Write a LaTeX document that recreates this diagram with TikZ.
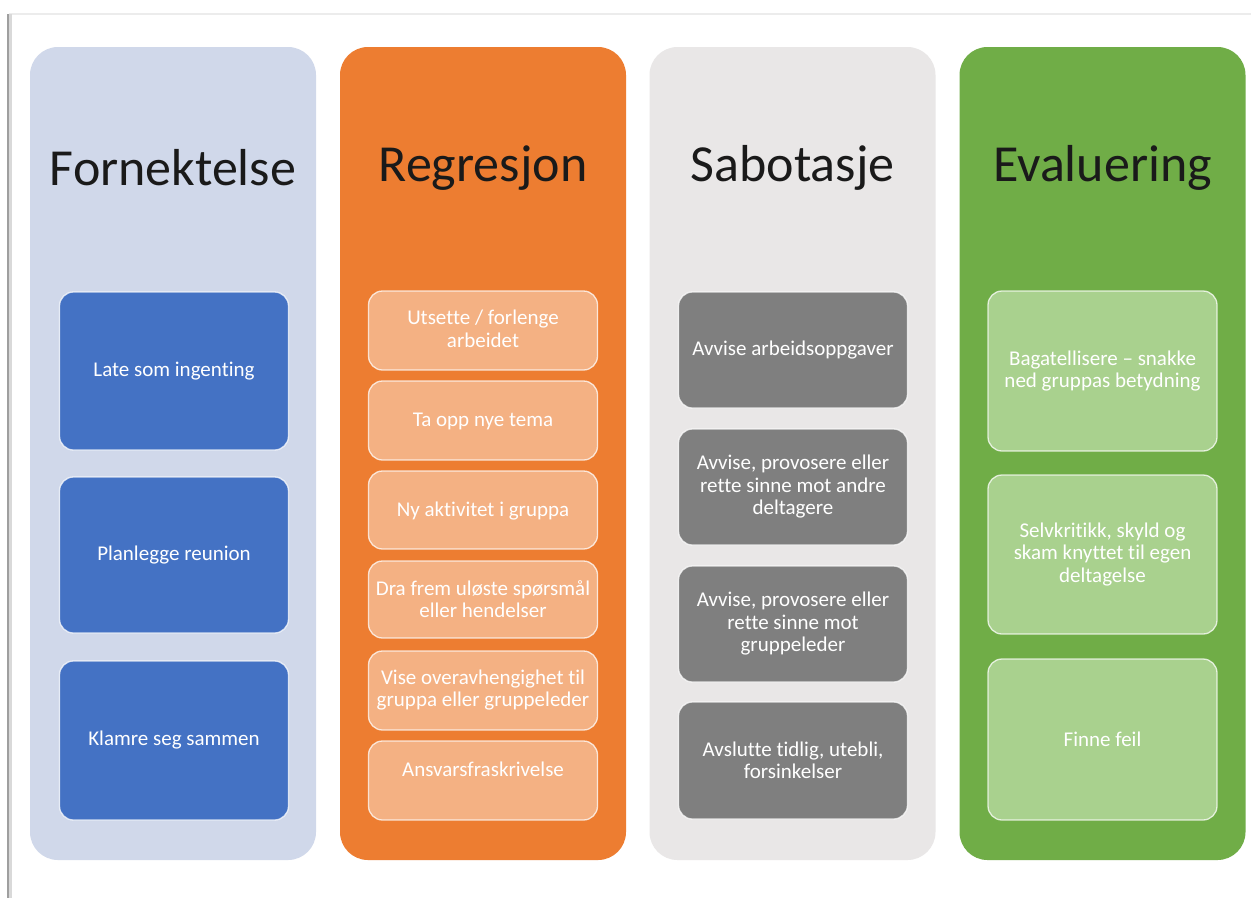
\documentclass[tikz,border=0pt]{standalone}
\usepackage{fontspec}
\setmainfont[Ligatures=NoCommon]{Carlito}
\definecolor{c1bg}{HTML}{D0D8EA}
\definecolor{c1bx}{HTML}{4472C4}
\definecolor{c2bg}{HTML}{ED7D31}
\definecolor{c2bx}{HTML}{F4B183}
\definecolor{c3bg}{HTML}{E9E7E7}
\definecolor{c3bx}{HTML}{7F7F7F}
\definecolor{c4bg}{HTML}{70AD47}
\definecolor{c4bx}{HTML}{A9D18E}
\definecolor{ttl}{HTML}{1A1A1A}
\tikzset{
  colbg/.style={draw=none, rounded corners=28pt, minimum width=286pt, minimum height=813pt, inner sep=0pt},
  ttlnode/.style={font=\fontsize{52}{58}\selectfont, text=ttl, inner sep=0pt},
  bx/.style={rounded corners=14pt, draw=white, draw opacity=0.75, line width=1.3pt, minimum width=229pt, inner sep=2pt, align=center, text=white, font=\fontsize{21}{22.5}\selectfont},
  txt/.style={align=center, text=white, inner sep=0pt, font=\fontsize{21}{22.5}\selectfont},
}
\begin{document}
\begin{tikzpicture}[x=1pt,y=-1pt]
\useasboundingbox (0,0) rectangle (1251,898);
\fill[white] (0,0) rectangle (1251,898);
% page edge shadow
\draw[gray!15, line width=2pt] (9,14) -- (1251,14);
\draw[gray!30, line width=4pt] (10,14) -- (10,898);
\draw[gray!75, line width=1.2pt] (8,14) -- (8,898);
% columns
\node[colbg, fill=c1bg] (col1) at (173,453.5) {};
\node[colbg, fill=c2bg] (col2) at (483,453.5) {};
\node[colbg, fill=c3bg] (col3) at (792.5,453.5) {};
\node[colbg, fill=c4bg] (col4) at (1102.5,453.5) {};
% titles
\node[ttlnode] (t1) at (173,168) {Fornektelse};
\node[ttlnode] (t2) at (483,168) {Regresjon};
\node[ttlnode] (t3) at (792.5,168) {Sabotasje};
\node[ttlnode] (t4) at (1102.5,168) {Evaluering};
% column 1
\node[bx, fill=c1bx, minimum height=158pt] (b11) at (174,371) {Late som ingenting};
\node[bx, fill=c1bx, minimum height=156pt] (b12) at (174,555) {Planlegge reunion};
\node[bx, fill=c1bx, minimum height=159pt] (b13) at (174,740.5) {Klamre seg sammen};
% column 2
\node[bx, fill=c2bx, minimum height=79pt] (b21) at (483,330.5) {};
\node[txt] (t21) at (483,329) {Utsette / forlenge\\arbeidet};
\node[bx, fill=c2bx, minimum height=79pt] (b22) at (483,420.5) {};
\node[txt] (t22) at (483,421) {Ta opp nye tema};
\node[bx, fill=c2bx, minimum height=78pt] (b23) at (483,510) {};
\node[txt] (t23) at (483,511) {Ny aktivitet i gruppa};
\node[bx, fill=c2bx, minimum height=77pt] (b24) at (483,599.5) {};
\node[txt] (t24) at (483,599) {Dra frem uløste spørsmål\\eller hendelser};
\node[bx, fill=c2bx, minimum height=79pt] (b25) at (483,690.5) {};
\node[txt] (t25) at (483,690) {Vise overavhengighet til\\gruppa eller gruppeleder};
\node[bx, fill=c2bx, minimum height=79pt] (b26) at (483,780.5) {};
\node[txt] (t26) at (483,769) {Ansvarsfraskrivelse};
% column 3
\node[bx, fill=c3bx, minimum height=116pt] (b31) at (793,350) {Avvise arbeidsoppgaver};
\node[bx, fill=c3bx, minimum height=116pt] (b32) at (793,487) {Avvise, provosere eller\\rette sinne mot andre\\deltagere};
\node[bx, fill=c3bx, minimum height=116pt] (b33) at (793,624) {Avvise, provosere eller\\rette sinne mot\\gruppeleder};
\node[bx, fill=c3bx, minimum height=117pt] (b34) at (793,760.5) {Avslutte tidlig, utebli,\\forsinkelser};
% column 4
\node[bx, fill=c4bx, minimum height=160pt] (b41) at (1102.5,371) {Bagatellisere – snakke\\ned gruppas betydning};
\node[bx, fill=c4bx, minimum height=159pt] (b42) at (1102.5,554.5) {Selvkritikk, skyld og\\skam knyttet til egen\\deltagelse};
\node[bx, fill=c4bx, minimum height=161pt] (b43) at (1102.5,739.5) {Finne feil};
\end{tikzpicture}
\end{document}
